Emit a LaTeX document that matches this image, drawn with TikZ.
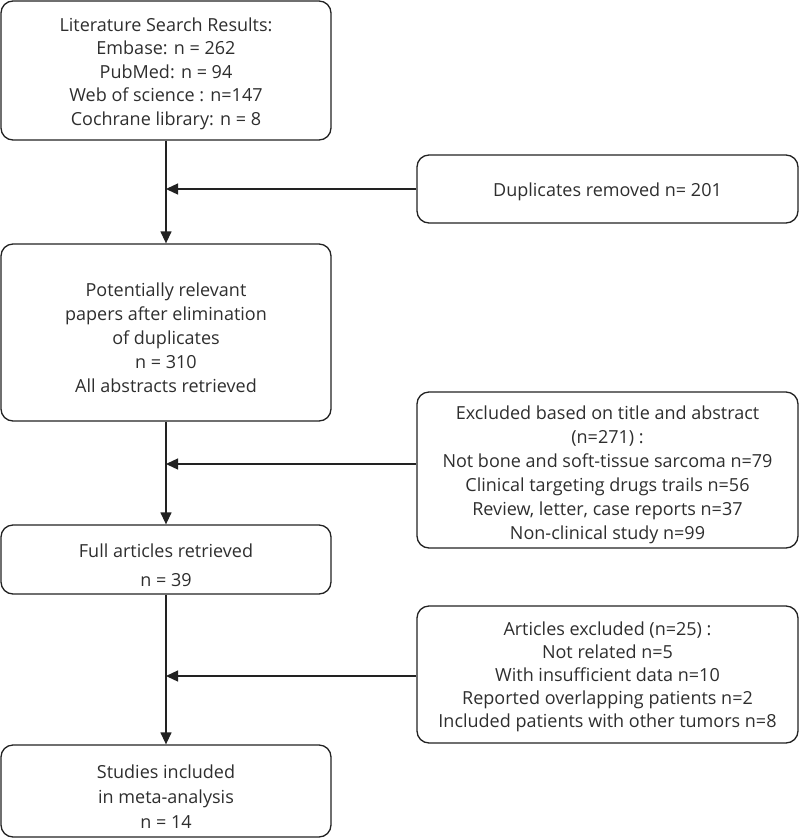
\documentclass[tikz,border=0pt]{standalone}
\usepackage{fontspec}
\setmainfont{Open Sans}
\usetikzlibrary{arrows.meta}
\definecolor{txt}{HTML}{2E2E2E}
\definecolor{ln}{HTML}{222222}
\newcommand{\topstrut}[1]{\rule{0pt}{#1pt}}
\begin{document}
\begin{tikzpicture}[x=1pt,y=-1pt,
  box/.style={draw=ln, line width=1.3pt, rounded corners=12pt, align=center, text=txt,
    font=\fontsize{18}{24}\selectfont, inner sep=0pt},
  lbox/.style={box, minimum width=330pt},
  rbox/.style={box, minimum width=381pt},
  flow/.style={draw=ln, line width=1.3pt, -{Triangle[length=12pt,width=11pt]}}]
\useasboundingbox (0,0) rectangle (800,839);
\node[lbox, minimum height=139pt, font=\fontsize{18}{23.5}\selectfont] (b1) at (166,70.5) {\topstrut{19.5}Literature Search Results:\\Embase: n = 262\\PubMed: n = 94\\Web of science : n=147\\Cochrane library: n = 8};
\node[rbox, minimum height=68pt] (b2) at (607.5,189) {\topstrut{19.5}Duplicates removed n= 201};
\node[lbox, minimum height=177pt] (b3) at (166,332.5) {\topstrut{24.5}Potentially relevant\\papers after elimination\\of duplicates\\n = 310\\All abstracts retrieved};
\node[rbox, minimum height=156pt] (b4) at (607.5,470) {\topstrut{22.5}Excluded based on title and abstract\\(n=271) :\\Not bone and soft-tissue sarcoma n=79\\Clinical targeting drugs trails n=56\\Review, letter, case reports n=37\\Non-clinical study n=99};
\node[lbox, minimum height=69pt, font=\fontsize{18}{29}\selectfont] (b5) at (166,559.5) {\topstrut{24.5}Full articles retrieved\\n = 39};
\node[rbox, minimum height=137pt, font=\fontsize{18}{23}\selectfont] (b6) at (607.5,674.5) {\topstrut{18.5}Articles excluded (n=25) :\\Not related n=5\\With insufficient data n=10\\Reported overlapping patients n=2\\Included patients with other tumors n=8};
\node[lbox, minimum height=92pt, font=\fontsize{18}{25}\selectfont] (b7) at (166,791) {\topstrut{24.5}Studies included\\in meta-analysis\\n = 14};
\coordinate (j1) at (166,189);
\coordinate (j2) at (166,464);
\coordinate (j3) at (166,676);
\draw[flow] (b1) -- (b3);
\draw[flow] (b3) -- (b5);
\draw[flow] (b5) -- (b7);
\draw[flow] (b2.west) -- (j1);
\draw[flow] (b4.west |- j2) -- (j2);
\draw[flow] (b6.west |- j3) -- (j3);
\end{tikzpicture}
\end{document}
